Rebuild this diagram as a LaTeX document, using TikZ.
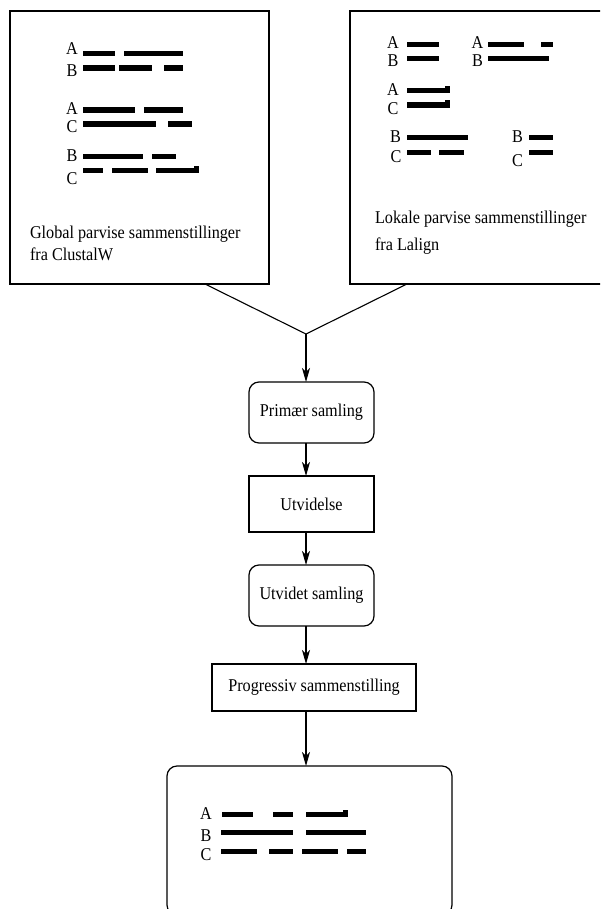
\documentclass[tikz,border=0pt]{standalone}
\usepackage{fontspec}
\setmainfont{Liberation Serif}[FakeStretch=0.9]
\usetikzlibrary{arrows.meta}

% one aligned sequence row: y position, then x-start/x-end pairs of the bars
\newcommand{\seqrow}[2]{\foreach \xa/\xb in {#2} {\draw[seqbar] (\xa,#1) -- (\xb,#1);}}
% small raised step at the end of a bar
\newcommand{\seqstep}[2]{\fill (#1-5,#2-4.6) rectangle (#1,#2);}

\begin{document}
\begin{tikzpicture}[x=1pt,y=-1pt,
  every node/.style={inner sep=0pt, outer sep=0pt, font=\fontsize{18}{22}\selectfont},
  panel/.style={draw, line width=1.2pt},
  stagebox/.style={draw, line width=1.2pt, minimum width=125pt},
  roundbox/.style={stagebox, rounded corners=10pt},
  seqbar/.style={line width=5.5pt, line cap=butt},
  lbl/.style={anchor=base},
  captxt/.style={anchor=base west},
  link/.style={line width=1.1pt},
  flow/.style={line width=1.1pt, -{Stealth[length=14pt, width=8pt, inset=4pt]}}]

\useasboundingbox (0,0) rectangle (600,909);
\clip (0,0) rectangle (600,909);

% ---- input panels ----
\node[panel, minimum width=259pt, minimum height=273pt] (gbox) at (139.5,147.5) {};
\node[panel, minimum width=255pt, minimum height=273pt] (lbox) at (477.5,147.5) {};

% global pairwise alignments
\node[lbl] (gA1) at (72,55) {A};
\node[lbl] (gB1) at (72,77) {B};
\node[lbl] (gA2) at (72,115) {A};
\node[lbl] (gC2) at (72,133) {C};
\node[lbl] (gB3) at (72,162) {B};
\node[lbl] (gC3) at (72,185) {C};
\seqrow{53.5}{83/115,124/183}
\seqrow{68}{83/115,119/152,164/183}
\seqrow{110}{83/135,144/183}
\seqrow{124}{83/156,168/192}
\seqrow{156.5}{83/143,152/176}
\seqrow{170.5}{83/103,112/148,156/199}
\seqstep{199}{170.5}

\node[captxt] (gcap1) at (30,238) {Global parvise sammenstillinger};
\node[captxt] (gcap2) at (30,260) {fra ClustalW};

% local pairwise alignments
\node[lbl] (lA1) at (393,49) {A};
\node[lbl] (lB1) at (393,67) {B};
\node[lbl] (lA2) at (477.5,49) {A};
\node[lbl] (lB2) at (477.5,67) {B};
\node[lbl] (lA3) at (393,96) {A};
\node[lbl] (lC3) at (393,115) {C};
\node[lbl] (lB4) at (395.5,143) {B};
\node[lbl] (lC4) at (396,163) {C};
\node[lbl] (lB5) at (517.5,143) {B};
\node[lbl] (lC5) at (517.5,167) {C};
\seqrow{44.5}{407/439}
\seqrow{58.5}{407/439}
\seqrow{44.5}{488/524,541/553}
\seqrow{58.5}{488/549}
\seqrow{90.5}{407/450}
\seqstep{450}{90.5}
\seqrow{105}{407/450}
\seqstep{450}{105}
\seqrow{137.5}{407/468}
\seqrow{152.5}{407/431,439/464}
\seqrow{137.5}{529/553}
\seqrow{152.5}{529/553}

\node[captxt] (lcap1) at (375,224) {Lokale parvise sammenstillinger};
\node[captxt] (lcap2) at (375,251) {fra Lalign};

% ---- pipeline ----
\coordinate (join) at (306,334);
\coordinate (gfoot) at (205,0);
\coordinate (lfoot) at (407,0);
\node[roundbox, minimum height=61pt] (prim) at (311.5,412.5) {Primær samling};
\node[stagebox, minimum height=56pt] (ext) at (311.5,504) {Utvidelse};
\node[roundbox, minimum height=61pt] (extset) at (311.5,595.5) {Utvidet samling};
\node[stagebox, minimum width=204pt, minimum height=47pt] (prog) at (314,687.5) {Progressiv sammenstilling};
\node[panel, rounded corners=10pt, minimum width=285pt, minimum height=149pt] (final) at (309.5,840.5) {};

% final multiple alignment
\node[lbl] (fA) at (206,819) {A};
\node[lbl] (fB) at (206,841) {B};
\node[lbl] (fC) at (206,860) {C};
\seqrow{814.5}{222/253,273/293,306/348}
\seqstep{348}{814.5}
\seqrow{832.5}{221/293,306/366}
\seqrow{851.5}{221/257,269/293,302/338,347/366}

% ---- connectors ----
\draw[link] (gbox.south -| gfoot) -- (join);
\draw[link] (lbox.south -| lfoot) -- (join);
\draw[flow] (join) -- (prim.north -| join);
\draw[flow] (prim.south -| join) -- (ext.north -| join);
\draw[flow] (ext.south -| join) -- (extset.north -| join);
\draw[flow] (extset.south -| join) -- (prog.north -| join);
\draw[flow] (prog.south -| join) -- (final.north -| join);
\end{tikzpicture}
\end{document}
